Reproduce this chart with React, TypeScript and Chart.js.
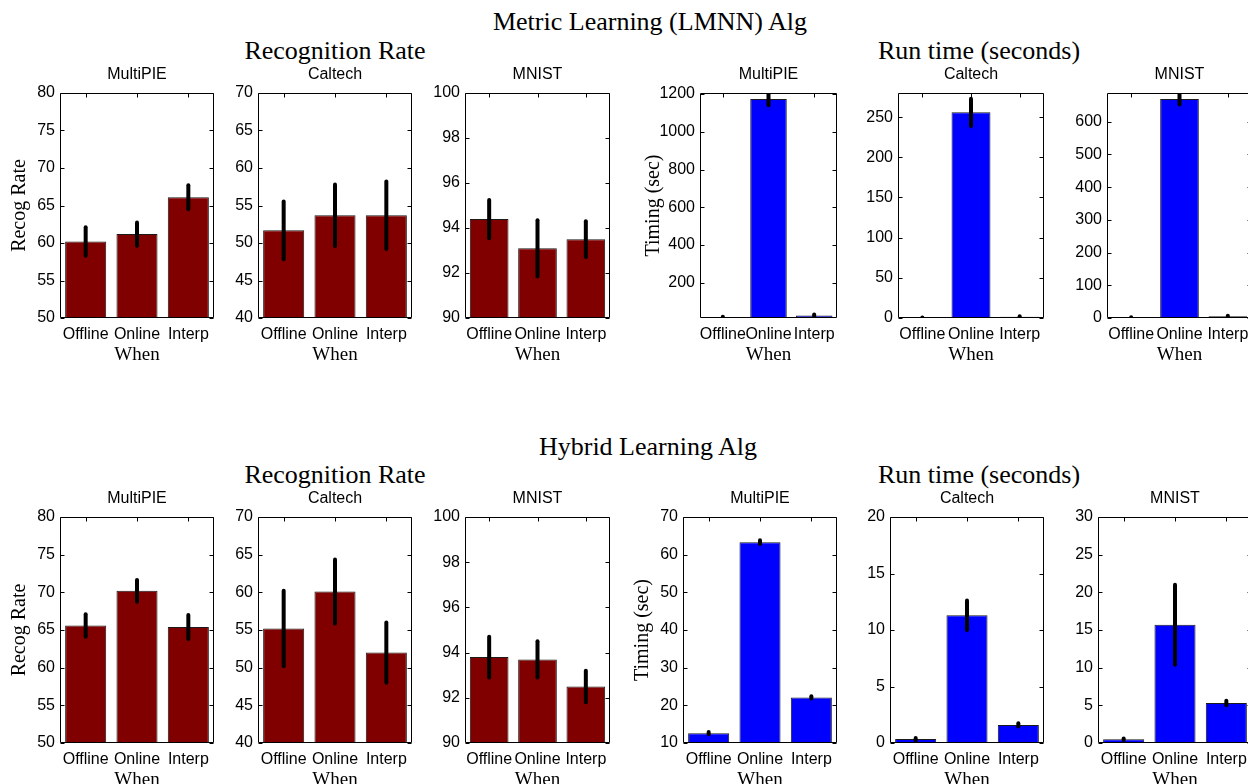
import React, { useEffect, useRef } from "react";
import { Chart, registerables } from "chart.js";

Chart.register(...registerables);

const SANS = '"Liberation Sans", Arial, Helvetica, sans-serif';
const SERIF = '"Liberation Serif", "Times New Roman", serif';

const categories = ["Offline", "Online", "Interp"];

// ---- Metric Learning (LMNN) Alg : recognition rate (mean, error half-width)
const lmnnRecogMultiPIE = [60.2, 61.2, 66.1];
const lmnnRecogMultiPIEErr = [1.9, 1.55, 1.6];
const lmnnRecogCaltech = [51.7, 53.7, 53.7];
const lmnnRecogCaltechErr = [3.85, 4.1, 4.5];
const lmnnRecogMNIST = [94.4, 93.1, 93.5];
const lmnnRecogMNISTErr = [0.85, 1.25, 0.8];

// ---- Metric Learning (LMNN) Alg : run time (seconds)
const lmnnTimeMultiPIE = [18, 1173, 27];
const lmnnTimeMultiPIEErr = [3, 33, 5];
const lmnnTimeCaltech = [0.4, 256, 1.5];
const lmnnTimeCaltechErr = [0.3, 17, 0.8];
const lmnnTimeMNIST = [1.5, 670, 5];
const lmnnTimeMNISTErr = [1, 17, 2];

// ---- Hybrid Learning Alg : recognition rate
const hybRecogMultiPIE = [65.6, 70.2, 65.4];
const hybRecogMultiPIEErr = [1.5, 1.45, 1.6];
const hybRecogCaltech = [55.2, 60.1, 52.0];
const hybRecogCaltechErr = [5.0, 4.25, 4.0];
const hybRecogMNIST = [93.8, 93.7, 92.5];
const hybRecogMNISTErr = [0.9, 0.8, 0.7];

// ---- Hybrid Learning Alg : run time (seconds)
const hybTimeMultiPIE = [12.6, 63.3, 22.1];
const hybTimeMultiPIEErr = [0.3, 0.5, 0.3];
const hybTimeCaltech = [0.35, 11.3, 1.6];
const hybTimeCaltechErr = [0.1, 1.3, 0.15];
const hybTimeMNIST = [0.5, 15.7, 5.3];
const hybTimeMNISTErr = [0.1, 5.3, 0.3];

// ---- tick labels
const ticksRecogMultiPIE = [50, 55, 60, 65, 70, 75, 80];
const ticksRecogCaltech = [40, 45, 50, 55, 60, 65, 70];
const ticksRecogMNIST = [90, 92, 94, 96, 98, 100];
const ticksLmnnTimeMultiPIE = [200, 400, 600, 800, 1000, 1200];
const ticksLmnnTimeCaltech = [0, 50, 100, 150, 200, 250];
const ticksLmnnTimeMNIST = [0, 100, 200, 300, 400, 500, 600];
const ticksHybTimeMultiPIE = [10, 20, 30, 40, 50, 60, 70];
const ticksHybTimeCaltech = [0, 5, 10, 15, 20];
const ticksHybTimeMNIST = [0, 5, 10, 15, 20, 25, 30];

// ---- axis ranges
const rangeLmnnTimeMultiPIE = [14, 1205];
const rangeLmnnTimeCaltech = [0, 280];
const rangeLmnnTimeMNIST = [0, 688];

const RED = "#800000";
const BLUE = "#0000ff";

const L = 60; // y-axis area width
const T = 26; // title area height
const B = 47; // x-axis area height
const R = 6;

type SubProps = {
  left: number;
  top: number;
  w: number;
  h: number;
  title: string;
  values: number[];
  errs: number[];
  ticks: number[];
  min: number;
  max: number;
  color: string;
  yTitle?: string;
  yTitlePad?: number;
};

function Subplot(p: SubProps) {
  const ref = useRef<HTMLCanvasElement | null>(null);
  const cw = L + p.w + R;
  const ch = T + p.h + B;
  useEffect(() => {
    const errPlugin = {
      id: "errbars",
      afterDatasetsDraw(chart: any) {
        const { ctx, chartArea: a } = chart;
        const meta = chart.getDatasetMeta(0);
        const ys = chart.scales.y;
        ctx.save();
        ctx.beginPath();
        ctx.rect(a.left, a.top, a.right - a.left, a.bottom - a.top);
        ctx.clip();
        ctx.strokeStyle = "#000";
        ctx.lineWidth = 4;
        ctx.lineCap = "round";
        meta.data.forEach((bar: any, i: number) => {
          const v = p.values[i];
          const e = p.errs[i];
          ctx.beginPath();
          ctx.moveTo(bar.x, ys.getPixelForValue(v - e));
          ctx.lineTo(bar.x, ys.getPixelForValue(v + e));
          ctx.stroke();
        });
        ctx.restore();
      },
    };
    const framePlugin = {
      id: "frame",
      afterDraw(chart: any) {
        const { ctx, chartArea: a } = chart;
        const ys = chart.scales.y;
        const xs = chart.scales.x;
        ctx.save();
        ctx.strokeStyle = "#000";
        ctx.lineWidth = 1;
        const l = Math.round(a.left) + 0.5;
        const r = Math.round(a.right) - 0.5;
        const t = Math.round(a.top) + 0.5;
        const b = Math.round(a.bottom) - 0.5;
        ctx.beginPath();
        ctx.rect(l, t, r - l, b - t);
        ctx.stroke();
        ctx.beginPath();
        p.ticks.forEach((v) => {
          const py = Math.round(ys.getPixelForValue(v)) + 0.5;
          ctx.moveTo(l, py);
          ctx.lineTo(l + 4, py);
          ctx.moveTo(r, py);
          ctx.lineTo(r - 4, py);
        });
        categories.forEach((_, i) => {
          const px = Math.round(xs.getPixelForTick(i)) + 0.5;
          ctx.moveTo(px, t);
          ctx.lineTo(px, t + 4);
        });
        ctx.stroke();
        ctx.restore();
      },
    };
    const chart = new Chart(ref.current as HTMLCanvasElement, {
      type: "bar",
      data: {
        labels: categories,
        datasets: [
          {
            data: p.values,
            backgroundColor: p.color,
            borderColor: "#1a1a1a",
            borderWidth: 1,
            barPercentage: 0.8,
            categoryPercentage: 1,
          },
        ],
      },
      options: {
        responsive: false,
        animation: false,
        layout: { padding: { left: 0, right: R, top: 0, bottom: 0 } },
        plugins: {
          legend: { display: false },
          tooltip: { enabled: false },
          title: {
            display: true,
            text: p.title,
            color: "#000",
            fullSize: false,
            font: { family: SANS, size: 16, weight: "normal", lineHeight: 1 },
            padding: { top: 0, bottom: 10 },
          },
        },
        scales: {
          x: {
            type: "category",
            offset: true,
            grid: { display: false, drawTicks: false },
            border: { display: false },
            ticks: {
              color: "#000",
              font: { family: SANS, size: 16 },
              padding: 7,
              maxRotation: 0,
              minRotation: 0,
              autoSkip: false,
            },
            title: {
              display: true,
              text: "When",
              color: "#000",
              font: { family: SERIF, size: 19, lineHeight: 1 },
              padding: 0,
            },
            afterFit: (s: any) => {
              s.height = B;
            },
          },
          y: {
            type: "linear",
            min: p.min,
            max: p.max,
            grid: { display: false, drawTicks: false },
            border: { display: false },
            ticks: {
              color: "#000",
              font: { family: SANS, size: 16 },
              padding: 5,
              callback: (v: any) => String(v),
            },
            afterBuildTicks: (s: any) => {
              s.ticks = p.ticks.map((v) => ({ value: v }));
            },
            title: p.yTitle
              ? {
                  display: true,
                  text: p.yTitle,
                  color: "#000",
                  font: { family: SERIF, size: 20, lineHeight: 1 },
                  padding: { top: p.yTitlePad ?? 10, bottom: 0 },
                }
              : { display: false },
            afterFit: (s: any) => {
              s.width = L;
            },
          },
        },
      } as any,
      plugins: [errPlugin, framePlugin],
    });
    return () => chart.destroy();
  }, []);
  return (
    <canvas
      ref={ref}
      width={cw}
      height={ch}
      style={{
        position: "absolute",
        left: p.left - L,
        top: p.top - T,
        width: cw,
        height: ch,
      }}
    />
  );
}

const headStyle = (cx: number, top: number): React.CSSProperties => ({
  position: "absolute",
  left: cx - 300,
  width: 600,
  top,
  textAlign: "center",
  fontFamily: SERIF,
  fontSize: 26,
  lineHeight: "26px",
  color: "#000",
  whiteSpace: "nowrap",
});

export default function App() {
  const r1 = 93;
  const h1 = 225;
  const r2 = 517;
  const h2 = 226;
  return (
    <div
      style={{
        position: "absolute",
        left: 0,
        top: 0,
        width: 1248,
        height: 784,
        overflow: "hidden",
        background: "#fff",
      }}
    >
      <div style={headStyle(650, 9)}>Metric Learning (LMNN) Alg</div>
      <div style={headStyle(335, 38)}>Recognition Rate</div>
      <div style={headStyle(979, 38)}>Run time (seconds)</div>
      <div style={headStyle(648, 434)}>Hybrid Learning Alg</div>
      <div style={headStyle(335, 462)}>Recognition Rate</div>
      <div style={headStyle(979, 462)}>Run time (seconds)</div>

      <Subplot left={60} top={r1} w={154} h={h1} title="MultiPIE" values={lmnnRecogMultiPIE} errs={lmnnRecogMultiPIEErr} ticks={ticksRecogMultiPIE} min={50} max={80} color={RED} yTitle="Recog Rate" yTitlePad={10} />
      <Subplot left={258} top={r1} w={154} h={h1} title="Caltech" values={lmnnRecogCaltech} errs={lmnnRecogCaltechErr} ticks={ticksRecogCaltech} min={40} max={70} color={RED} />
      <Subplot left={465} top={r1} w={145} h={h1} title="MNIST" values={lmnnRecogMNIST} errs={lmnnRecogMNISTErr} ticks={ticksRecogMNIST} min={90} max={100} color={RED} />
      <Subplot left={700} top={r1} w={137} h={h1} title="MultiPIE" values={lmnnTimeMultiPIE} errs={lmnnTimeMultiPIEErr} ticks={ticksLmnnTimeMultiPIE} min={rangeLmnnTimeMultiPIE[0]} max={rangeLmnnTimeMultiPIE[1]} color={BLUE} yTitle="Timing (sec)" yTitlePad={4} />
      <Subplot left={898} top={r1} w={146} h={h1} title="Caltech" values={lmnnTimeCaltech} errs={lmnnTimeCaltechErr} ticks={ticksLmnnTimeCaltech} min={rangeLmnnTimeCaltech[0]} max={rangeLmnnTimeCaltech[1]} color={BLUE} />
      <Subplot left={1107} top={r1} w={145} h={h1} title="MNIST" values={lmnnTimeMNIST} errs={lmnnTimeMNISTErr} ticks={ticksLmnnTimeMNIST} min={rangeLmnnTimeMNIST[0]} max={rangeLmnnTimeMNIST[1]} color={BLUE} />

      <Subplot left={60} top={r2} w={154} h={h2} title="MultiPIE" values={hybRecogMultiPIE} errs={hybRecogMultiPIEErr} ticks={ticksRecogMultiPIE} min={50} max={80} color={RED} yTitle="Recog Rate" yTitlePad={10} />
      <Subplot left={258} top={r2} w={154} h={h2} title="Caltech" values={hybRecogCaltech} errs={hybRecogCaltechErr} ticks={ticksRecogCaltech} min={40} max={70} color={RED} />
      <Subplot left={465} top={r2} w={145} h={h2} title="MNIST" values={hybRecogMNIST} errs={hybRecogMNISTErr} ticks={ticksRecogMNIST} min={90} max={100} color={RED} />
      <Subplot left={683} top={r2} w={154} h={h2} title="MultiPIE" values={hybTimeMultiPIE} errs={hybTimeMultiPIEErr} ticks={ticksHybTimeMultiPIE} min={10} max={70} color={BLUE} yTitle="Timing (sec)" yTitlePad={10} />
      <Subplot left={890} top={r2} w={154} h={h2} title="Caltech" values={hybTimeCaltech} errs={hybTimeCaltechErr} ticks={ticksHybTimeCaltech} min={0} max={20} color={BLUE} />
      <Subplot left={1098} top={r2} w={154} h={h2} title="MNIST" values={hybTimeMNIST} errs={hybTimeMNISTErr} ticks={ticksHybTimeMNIST} min={0} max={30} color={BLUE} />
    </div>
  );
}
